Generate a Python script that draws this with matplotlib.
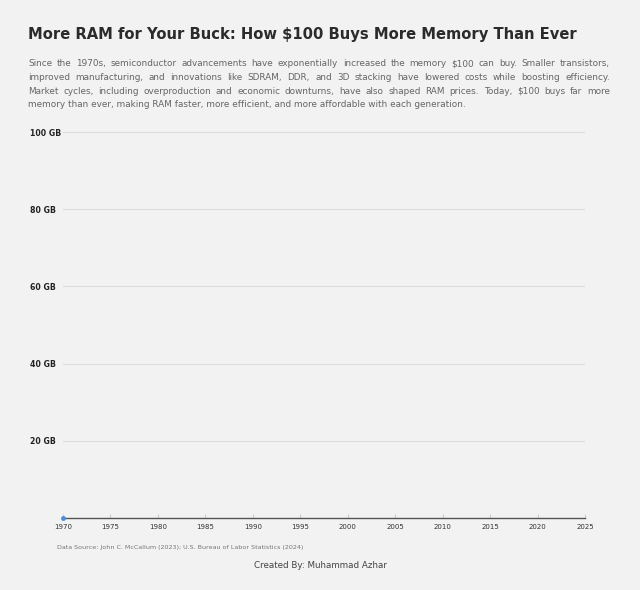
import matplotlib
matplotlib.use("Agg")
import matplotlib.pyplot as plt

# data (only the first point is visible in the reference)
years = [1970]
memory_gb = [0.0001]

x_ticks = list(range(1970, 2030, 5))
y_ticks = [20, 40, 60, 80, 100]
y_labels = ["20 GB", "40 GB", "60 GB", "80 GB", "100 GB"]

title = "More RAM for Your Buck: How $100 Buys More Memory Than Ever"
para_lines = [
    "Since the 1970s, semiconductor advancements have exponentially increased the memory $100 can buy. Smaller transistors,",
    "improved manufacturing, and innovations like SDRAM, DDR, and 3D stacking have lowered costs while boosting efficiency.",
    "Market cycles, including overproduction and economic downturns, have also shaped RAM prices. Today, $100 buys far more",
    "memory than ever, making RAM faster, more efficient, and more affordable with each generation.",
]
source = "Data Source: John C. McCallum (2023); U.S. Bureau of Labor Statistics (2024)"
credit = "Created By: Muhammad Azhar"

bg = "#f2f2f2"
plt.rcParams['font.family'] = ['DejaVu Sans']

W, H = 640, 590
fig = plt.figure(figsize=(W / 100, H / 100), dpi=100, facecolor=bg)

def px(x, y):
    return x / W, 1 - y / H

fig.text(*px(28, 39), title, fontsize=10.6, fontweight='bold', color='#2b2b2b', va='baseline', ha='left')

# justified paragraph
renderer = fig.canvas.get_renderer()
left, right = 28, 610
line_base = [66, 80, 94, 107]
pfs = 6.4
txt_kw = dict(fontsize=pfs, color='#666666', va='baseline', ha='left')

def text_width(s):
    t = fig.text(0, 0, s, **txt_kw)
    w = t.get_window_extent(renderer).width
    t.remove()
    return w

for i, line in enumerate(para_lines):
    words = line.split(" ")
    if i == len(para_lines) - 1:
        fig.text(*px(left, line_base[i]), line, **txt_kw)
        continue
    extra = (right - left - text_width(line)) / (len(words) - 1)
    for k, w in enumerate(words):
        head = " ".join(words[:k + 1])
        xk = left + text_width(head) - text_width(w) + k * extra
        fig.text(*px(xk, line_base[i]), w, **txt_kw)

ax = fig.add_axes([63 / W, 1 - 518 / H, (585 - 63) / W, (518 - 132) / H])
ax.set_facecolor(bg)
ax.plot(years, memory_gb, color='#4a90d9', linewidth=1.5, marker='o', markersize=2.5, clip_on=False, zorder=5)

ax.set_xlim(1970, 2025)
ax.set_ylim(0, 100)
ax.set_xticks(x_ticks)
ax.set_xticklabels([str(y) for y in x_ticks])
ax.set_yticks(y_ticks)
ax.set_yticklabels(y_labels)
for lab in ax.get_yticklabels():
    lab.set_horizontalalignment('left')
    lab.set_fontweight('bold')
ax.tick_params(axis='y', length=0, pad=24, labelsize=5.6, labelcolor='#222222')
ax.tick_params(axis='x', length=3, direction='in', color='#cccccc', pad=4, labelsize=5.0, labelcolor='#333333')
ax.grid(axis='y', color='#dcdcdc', linewidth=0.8)
ax.set_axisbelow(True)
for s in ['top', 'right', 'left']:
    ax.spines[s].set_visible(False)
ax.spines['bottom'].set_color('#555555')
ax.spines['bottom'].set_linewidth(1.0)

fig.text(*px(57, 547), source, fontsize=4.6, color='#777777', va='center', ha='left')
fig.text(*px(320, 566), credit, fontsize=6.3, color='#444444', va='center', ha='center')

fig.savefig("out.png", dpi=100, facecolor=bg)
